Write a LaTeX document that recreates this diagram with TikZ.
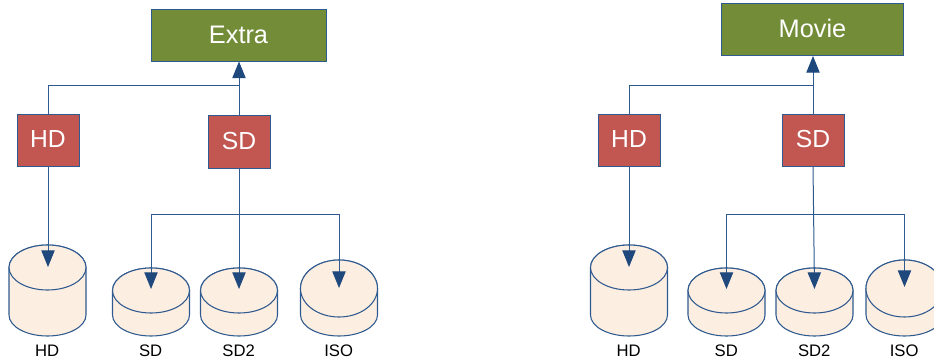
\documentclass[tikz,border=0pt]{standalone}
\usepackage{fontspec}
\setmainfont{Liberation Sans}
\usetikzlibrary{arrows.meta}
\definecolor{linec}{HTML}{2F5A8F}
\definecolor{tipc}{HTML}{1F497D}
\definecolor{olive}{HTML}{738C38}
\definecolor{brick}{HTML}{C25752}
\definecolor{drumfill}{HTML}{FDEEE2}
\tikzset{
  parentbox/.style={draw=linec,line width=0.75pt,fill=olive,text=white,font=\fontsize{19}{21}\selectfont,
    inner sep=0pt,outer sep=0pt,minimum height={52*0.75pt},text height=13pt,text depth=1.5pt},
  kindbox/.style={draw=linec,line width=0.75pt,fill=brick,text=white,font=\fontsize{18.5}{20}\selectfont,
    inner sep=0pt,outer sep=0pt,minimum width={62*0.75pt},minimum height={52*0.75pt},text height=13pt,text depth=1.5pt},
  link/.style={draw=linec,line width=0.75pt},
  linkarrow/.style={link,-{Triangle[length=12.5pt,width=10pt,color=tipc]}},
  drumshape/.style={draw=linec,line width=0.8pt,fill=drumfill},
  drumlabel/.style={font=\fontsize{12.5}{14}\selectfont,text=black,inner sep=0pt}
}
% name, centre x, top-ellipse centre y, top-ellipse radius y, label
\newcommand{\drum}[5]{%
  \path[drumshape] (#2-38.5,#3) -- (#2-38.5,315) arc[start angle=180,end angle=360,x radius=28.875pt,y radius=15.75pt]
     -- (#2+38.5,#3) arc[start angle=0,end angle=180,x radius=28.875pt,y radius={#4*0.75pt}] -- cycle;
  \path[drumshape] (#2,#3) ellipse[x radius=28.875pt,y radius={#4*0.75pt}];
  \node[drumlabel] (#1lab) at (#2-0.3,350.5) {#5};
}
\begin{document}
\begin{tikzpicture}[x=0.75pt,y=-0.75pt]
\useasboundingbox (0,0) rectangle (934,360);
\clip (0,0) rectangle (934,360);
\fill[white] (0,0) rectangle (934,360);

% left group: cylinders
\drum{lhdd}{47.5}{267.5}{22.5}{HD}
\drum{lsdd}{151}{290.5}{22.5}{SD}
\drum{lsdb}{239}{290.5}{22.5}{SD2}
\drum{liso}{339}{288.5}{28.5}{ISO}
% right group: cylinders
\drum{rhdd}{629}{267.5}{22.5}{HD}
\drum{rsdd}{726.5}{290.5}{22.5}{SD}
\drum{rsdb}{814.5}{290.5}{22.5}{SD2}
\drum{riso}{904.5}{288.5}{28.5}{ISO}

% boxes
\node[parentbox,minimum width={175*0.75pt}] (extra) at (238.5,35.5) {Extra};
\node[kindbox] (lhd) at (48,140) {HD};
\node[kindbox,minimum height={53*0.75pt}] (lsd) at (239,141.5) {SD};
\node[parentbox,minimum width={182*0.75pt}] (movie) at (812.5,30) {Movie};
\node[kindbox] (rhd) at (629,140) {HD};
\node[kindbox] (rsd) at (813,140) {SD};

% junctions and arrow ends
\coordinate (ljoin) at (239,85);
\coordinate (lbus) at (239,214);
\coordinate (tlhd) at (48,267);
\coordinate (tlsd) at (151,289);
\coordinate (tlsb) at (239,289);
\coordinate (tlis) at (339,288);
\coordinate (rjoin) at (813,85);
\coordinate (rbus) at (813,214);
\coordinate (trhd) at (629,267);
\coordinate (trsd) at (726.5,289);
\coordinate (trsb) at (814.5,289);
\coordinate (tris) at (904.5,287);

% left connectors
\draw[linkarrow] (lsd.north) -- (lsd.north |- extra.south);
\draw[link] (lhd.north) |- (ljoin);
\draw[linkarrow] (lhd.south) -- (tlhd);
\draw[linkarrow] (lsd.south) -- (tlsb);
\draw[linkarrow] (lbus) -| (tlsd);
\draw[linkarrow] (lbus) -| (tlis);
% right connectors
\draw[linkarrow] (rsd.north) -- (rsd.north |- movie.south);
\draw[link] (rhd.north) |- (rjoin);
\draw[linkarrow] (rhd.south) -- (trhd);
\draw[linkarrow] (rsd.south) -- (trsb);
\draw[linkarrow] (rbus) -| (trsd);
\draw[linkarrow] (rbus) -| (tris);
\end{tikzpicture}
\end{document}
